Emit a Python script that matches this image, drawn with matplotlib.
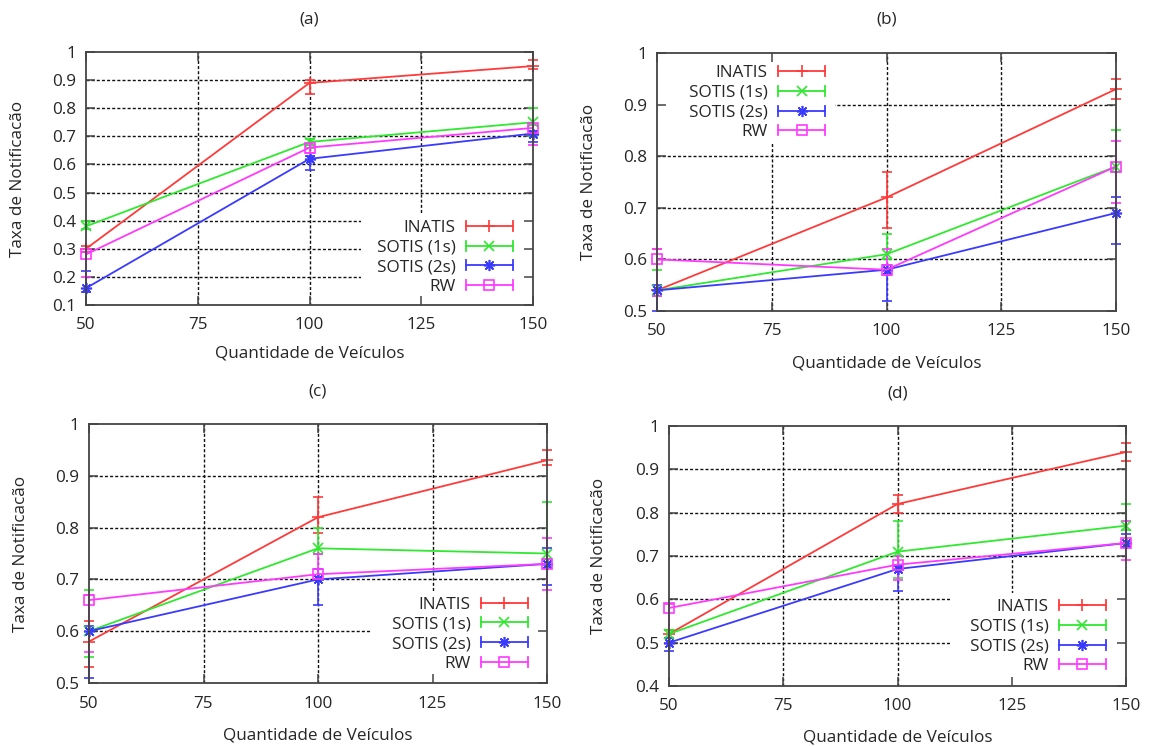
import matplotlib
matplotlib.use("Agg")
import matplotlib.pyplot as plt
from matplotlib.lines import Line2D
from matplotlib.patches import Rectangle
from matplotlib.legend_handler import HandlerBase
from matplotlib.container import ErrorbarContainer

plt.rcParams['font.family'] = ['Open Sans', 'DejaVu Sans']

# ---------------------------------------------------------------- data
vehicles = [50, 100, 150]
x_ticks = [50, 75, 100, 125, 150]
series_names = ['INATIS', 'SOTIS (1s)', 'SOTIS (2s)', 'RW']

# (a)
a_inatis = [0.30, 0.89, 0.95]
a_inatis_lo = [0.29, 0.85, 0.94]
a_inatis_hi = [0.31, 0.90, 0.97]
a_sotis1 = [0.38, 0.68, 0.75]
a_sotis1_lo = [0.37, 0.66, 0.70]
a_sotis1_hi = [0.40, 0.69, 0.80]
a_sotis2 = [0.16, 0.62, 0.71]
a_sotis2_lo = [0.145, 0.58, 0.68]
a_sotis2_hi = [0.22, 0.63, 0.72]
a_rw = [0.28, 0.66, 0.73]
a_rw_lo = [0.20, 0.64, 0.67]
a_rw_hi = [0.29, 0.67, 0.74]

# (b)
b_inatis = [0.54, 0.72, 0.93]
b_inatis_lo = [0.53, 0.66, 0.91]
b_inatis_hi = [0.62, 0.77, 0.95]
b_sotis1 = [0.54, 0.61, 0.78]
b_sotis1_lo = [0.53, 0.60, 0.77]
b_sotis1_hi = [0.58, 0.65, 0.85]
b_sotis2 = [0.54, 0.58, 0.69]
b_sotis2_lo = [0.50, 0.52, 0.63]
b_sotis2_hi = [0.55, 0.59, 0.72]
b_rw = [0.60, 0.58, 0.78]
b_rw_lo = [0.53, 0.57, 0.71]
b_rw_hi = [0.62, 0.62, 0.83]

# (c)
c_inatis = [0.58, 0.82, 0.93]
c_inatis_lo = [0.53, 0.79, 0.92]
c_inatis_hi = [0.62, 0.86, 0.95]
c_sotis1 = [0.60, 0.76, 0.75]
c_sotis1_lo = [0.55, 0.75, 0.74]
c_sotis1_hi = [0.68, 0.80, 0.85]
c_sotis2 = [0.60, 0.70, 0.73]
c_sotis2_lo = [0.51, 0.65, 0.69]
c_sotis2_hi = [0.61, 0.72, 0.76]
c_rw = [0.66, 0.71, 0.73]
c_rw_lo = [0.56, 0.70, 0.68]
c_rw_hi = [0.67, 0.75, 0.78]

# (d)
d_inatis = [0.52, 0.82, 0.94]
d_inatis_lo = [0.51, 0.80, 0.92]
d_inatis_hi = [0.53, 0.84, 0.96]
d_sotis1 = [0.52, 0.71, 0.77]
d_sotis1_lo = [0.51, 0.65, 0.76]
d_sotis1_hi = [0.53, 0.78, 0.82]
d_sotis2 = [0.50, 0.67, 0.73]
d_sotis2_lo = [0.48, 0.62, 0.72]
d_sotis2_hi = [0.51, 0.68, 0.75]
d_rw = [0.58, 0.68, 0.73]
d_rw_lo = [0.50, 0.645, 0.69]
d_rw_hi = [0.59, 0.70, 0.78]

a_yticks = [0.1, 0.2, 0.3, 0.4, 0.5, 0.6, 0.7, 0.8, 0.9, 1.0]
a_ylabels = ['0.1', '0.2', '0.3', '0.4', '0.5', '0.6', '0.7', '0.8', '0.9', '1']
bc_yticks = [0.5, 0.6, 0.7, 0.8, 0.9, 1.0]
bc_ylabels = ['0.5', '0.6', '0.7', '0.8', '0.9', '1']
d_yticks = [0.4, 0.5, 0.6, 0.7, 0.8, 0.9, 1.0]
d_ylabels = ['0.4', '0.5', '0.6', '0.7', '0.8', '0.9', '1']

# ---------------------------------------------------------------- styles
STYLES = [
    dict(color='#ff3a3a', marker='+', ms=9, mfc='none'),
    dict(color='#30e830', marker='x', ms=7, mfc='none'),
    dict(color='#3a3aff', marker=(8, 2, 0), ms=8, mfc='none'),
    dict(color='#ff3aff', marker='s', ms=7, mfc='none'),
]
TEXT = '#262626'
FRAME = '#444444'
FS = 12.3
LW = 1.3

W, H = 1151, 746
fig = plt.figure(figsize=(W / 100, H / 100), dpi=100)


def rect_from_px(left, top, right, bottom):
    return [left / W, 1 - bottom / H, (right - left) / W, (bottom - top) / H]


class ErrorKeyHandler(HandlerBase):
    """Key sample: horizontal line with end caps and the point symbol in the middle."""

    def create_artists(self, legend, orig_handle, xdescent, ydescent,
                       width, height, fontsize, trans):
        src = orig_handle.lines[0]
        color = src.get_color()
        y = height / 2 - ydescent
        x0 = -xdescent
        x1 = x0 + width
        cap = 3.6
        arts = [
            Line2D([x0, x1], [y, y], color=color, lw=LW),
            Line2D([x0, x0], [y - cap, y + cap], color=color, lw=LW),
            Line2D([x1, x1], [y - cap, y + cap], color=color, lw=LW),
            Line2D([(x0 + x1) / 2], [y], color=color, lw=0,
                   marker=src.get_marker(), markersize=src.get_markersize(),
                   mfc='none', mec=color, mew=1.2),
        ]
        for a in arts:
            a.set_transform(trans)
        return arts


panels = [
    dict(tag='(a)', box=(86, 52, 533, 305), ylim=(0.1, 1.0),
         yticks=a_yticks, ylabels=a_ylabels,
         series=[(a_inatis, a_inatis_lo, a_inatis_hi),
                 (a_sotis1, a_sotis1_lo, a_sotis1_hi),
                 (a_sotis2, a_sotis2_lo, a_sotis2_hi),
                 (a_rw, a_rw_lo, a_rw_hi)],
         key_bg=(0.615, 0.0, 0.385, 0.364), key_at=(0.955, 0.188),
         title_y=20, xlabel_y=354, ylabel_x=18),
    dict(tag='(b)', box=(657, 53, 1116, 311), ylim=(0.5, 1.0),
         yticks=bc_yticks, ylabels=bc_ylabels,
         series=[(b_inatis, b_inatis_lo, b_inatis_hi),
                 (b_sotis1, b_sotis1_lo, b_sotis1_hi),
                 (b_sotis2, b_sotis2_lo, b_sotis2_hi),
                 (b_rw, b_rw_lo, b_rw_hi)],
         key_bg=(0.0, 0.650, 0.388, 0.350), key_at=(0.366, 0.807),
         title_y=20, xlabel_y=363, ylabel_x=589),
    dict(tag='(c)', box=(89, 424, 547, 683), ylim=(0.5, 1.0),
         yticks=bc_yticks, ylabels=bc_ylabels,
         series=[(c_inatis, c_inatis_lo, c_inatis_hi),
                 (c_sotis1, c_sotis1_lo, c_sotis1_hi),
                 (c_sotis2, c_sotis2_lo, c_sotis2_hi),
                 (c_rw, c_rw_lo, c_rw_hi)],
         key_bg=(0.616, 0.0, 0.384, 0.347), key_at=(0.958, 0.188),
         title_y=392, xlabel_y=736, ylabel_x=21),
    dict(tag='(d)', box=(669, 426, 1126, 686), ylim=(0.4, 1.0),
         yticks=d_yticks, ylabels=d_ylabels,
         series=[(d_inatis, d_inatis_lo, d_inatis_hi),
                 (d_sotis1, d_sotis1_lo, d_sotis1_hi),
                 (d_sotis2, d_sotis2_lo, d_sotis2_hi),
                 (d_rw, d_rw_lo, d_rw_hi)],
         key_bg=(0.615, 0.0, 0.385, 0.358), key_at=(0.956, 0.190),
         title_y=393, xlabel_y=738, ylabel_x=599),
]

for p in panels:
    left, top, right, bottom = p['box']
    ax = fig.add_axes(rect_from_px(left, top, right, bottom))
    ax.set_xlim(x_ticks[0], x_ticks[-1])
    ax.set_ylim(*p['ylim'])
    ax.set_xticks(x_ticks)
    ax.set_xticklabels([str(v) for v in x_ticks])
    ax.set_yticks(p['yticks'])
    ax.set_yticklabels(p['ylabels'])

    # dashed grid at the inner tick positions
    for xv in x_ticks[1:-1]:
        ax.axvline(xv, color='#111111', lw=1.0, ls=(0, (2.2, 1.5)), zorder=1.0)
    for yv in p['yticks'][1:-1]:
        ax.axhline(yv, color='#111111', lw=1.0, ls=(0, (2.2, 1.5)), zorder=1.0)

    # opaque key area hides the grid behind the key
    ax.add_patch(Rectangle(p['key_bg'][:2], p['key_bg'][2], p['key_bg'][3],
                           transform=ax.transAxes, facecolor='white',
                           edgecolor='none', zorder=1.2))

    handles = []
    for name, (vals, lo, hi), st in zip(series_names, p['series'], STYLES):
        err = [[v - l for v, l in zip(vals, lo)], [h - v for v, h in zip(vals, hi)]]
        cont = ax.errorbar(vehicles, vals, yerr=err, color=st['color'],
                           lw=LW, elinewidth=1.2, capsize=3.6, capthick=1.2,
                           marker=st['marker'], ms=st['ms'], mfc=st['mfc'],
                           mec=st['color'], mew=1.2, label=name, zorder=3)
        for art in cont.get_children():
            art.set_clip_on(False)
        handles.append(cont)

    ax.legend(handles=handles, loc='center right', bbox_to_anchor=p['key_at'],
              bbox_transform=ax.transAxes, frameon=False, markerfirst=False,
              fontsize=FS, handlelength=2.75, handletextpad=0.6,
              labelspacing=0.22, borderpad=0, borderaxespad=0,
              labelcolor=TEXT,
              handler_map={ErrorbarContainer: ErrorKeyHandler()})

    for s in ax.spines.values():
        s.set_color(FRAME)
        s.set_linewidth(1.3)
        s.set_zorder(4)
    ax.tick_params(axis='both', direction='in', length=6.5, width=1.1,
                   color=FRAME, labelcolor=TEXT, labelsize=FS,
                   top=True, right=True)
    ax.tick_params(axis='y', pad=7)
    ax.tick_params(axis='x', pad=9)

    cx = (left + right) / 2
    cy = (top + bottom) / 2
    fig.text(cx / W, 1 - p['title_y'] / H, p['tag'], ha='center', va='center',
             fontsize=FS, color=TEXT)
    fig.text(cx / W, 1 - p['xlabel_y'] / H, 'Quantidade de Veículos',
             ha='center', va='center', fontsize=FS, color=TEXT)
    fig.text(p['ylabel_x'] / W, 1 - cy / H, 'Taxa de Notificacão', rotation=90,
             ha='center', va='center', fontsize=FS, color=TEXT)

fig.savefig('out.png', dpi=100, facecolor='white')
